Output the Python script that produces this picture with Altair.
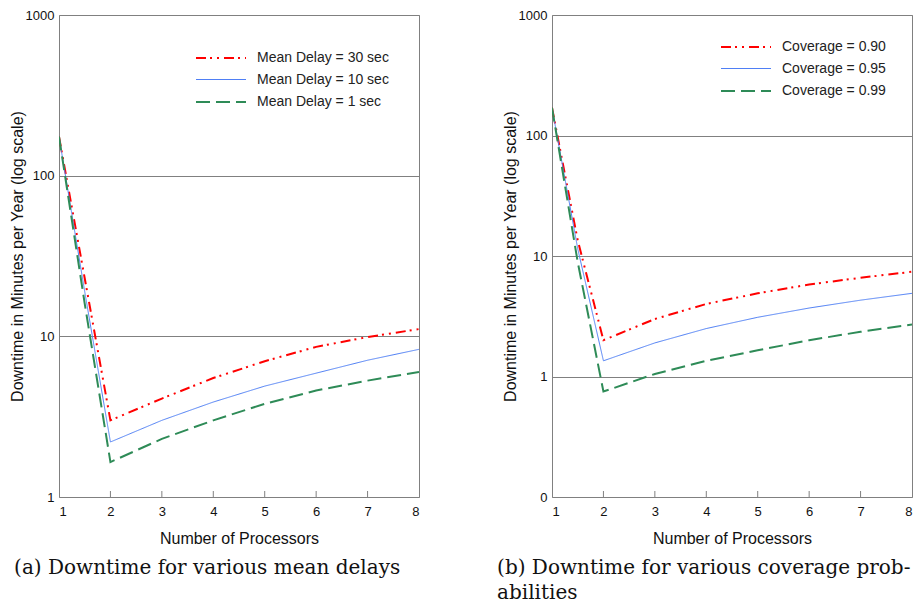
import altair as alt
import pandas as pd

# ---- data ----
x_vals = [1, 1.5, 2, 3, 4, 5, 6, 7, 8]

left_series = ["Mean Delay = 30 sec", "Mean Delay = 10 sec", "Mean Delay = 1 sec"]
left_30 = [175, 23, 3.0, 4.1, 5.5, 7.0, 8.6, 9.9, 11.1]
left_10 = [175, 19, 2.2, 3.0, 3.9, 4.9, 5.9, 7.1, 8.3]
left_1 = [175, 16, 1.65, 2.3, 3.0, 3.8, 4.6, 5.3, 6.0]

right_series = ["Coverage = 0.90", "Coverage = 0.95", "Coverage = 0.99"]
right_90 = [170, 13.5, 2.0, 3.0, 4.0, 4.9, 5.8, 6.6, 7.4]
right_95 = [170, 11.5, 1.35, 1.9, 2.5, 3.1, 3.7, 4.3, 4.9]
right_99 = [170, 8.9, 0.75, 1.05, 1.35, 1.65, 2.0, 2.35, 2.7]

x_ticks = [1, 2, 3, 4, 5, 6, 7, 8]
inner_ticks = [2, 3, 4, 5, 6, 7]
left_yticks = [1, 10, 100, 1000]
right_yticks = [0.1, 1, 10, 100, 1000]

colors = ["#ff0000", "#4f7ff5", "#2e8b57"]
dashes = [[10, 4, 2, 5, 2, 5], [1, 0], [14, 6]]
widths = [2, 1, 2]

W, H = 360, 482


def build_df(names, seriess):
    rows = []
    for name, vals in zip(names, seriess):
        for xv, yv in zip(x_vals, vals):
            rows.append({"x": xv, "y": yv, "series": name})
    return pd.DataFrame(rows)


def panel(names, seriess, ydomain, yticks, caption, leg_x, leg_y, cap_dx):
    df = build_df(names, seriess)
    xscale = alt.Scale(domain=[1, 8], nice=False)
    yscale = alt.Scale(type="log", domain=ydomain, nice=False)
    lines = alt.Chart(df).mark_line(clip=True).encode(
        x=alt.X("x:Q", scale=xscale,
                axis=alt.Axis(values=x_ticks, title="Number of Processors",
                              grid=False, ticks=False, domain=False,
                              labelPadding=8, titlePadding=12, format="d")),
        y=alt.Y("y:Q", scale=yscale,
                axis=alt.Axis(values=yticks, title="Downtime in Minutes per Year (log scale)",
                              grid=True, gridColor="#808080", gridWidth=1,
                              ticks=False, domain=False, format=".0f",
                              labelPadding=5, titlePadding=0)),
        color=alt.Color("series:N", scale=alt.Scale(domain=names, range=colors),
                        legend=alt.Legend(title=None, orient="none", legendX=leg_x,
                                          legendY=leg_y, symbolType="M-2.5,0H2.5",
                                          symbolSize=400, labelOffset=25,
                                          labelFontSize=14, rowPadding=4,
                                          labelFont="Liberation Sans",
                                          labelColor="#222")),
        strokeDash=alt.StrokeDash("series:N", scale=alt.Scale(domain=names, range=dashes),
                                  legend=alt.Legend(title=None, orient="none")),
        strokeWidth=alt.StrokeWidth("series:N",
                                    scale=alt.Scale(type="ordinal", domain=names, range=widths),
                                    legend=alt.Legend(title=None, orient="none")),
        order=alt.Order("x:Q"),
    )
    tdf = pd.DataFrame({"t": inner_ticks})
    ticks = alt.Chart(tdf).mark_rule(color="#808080", strokeWidth=1).encode(
        x=alt.X("t:Q", scale=xscale),
        y=alt.value(H),
        y2=alt.value(H - 6),
    )
    return alt.layer(ticks, lines).properties(
        width=W, height=H,
        title=alt.TitleParams(caption, orient="bottom", anchor="start", frame="bounds",
                              font="DejaVu Serif", fontSize=20, fontWeight="normal",
                              color="#111", offset=12, lineHeight=25, dx=cap_dx),
    )


left = panel(left_series, [left_30, left_10, left_1], [1, 1000], left_yticks,
             ["(a) Downtime for various mean delays"], 151, 32, 5)
right = panel(right_series, [right_90, right_95, right_99], [0.1, 1000], right_yticks,
              ["(b) Downtime for various coverage prob-", "abilities"], 183, 21, -5)

chart = alt.hconcat(left, right, spacing=76).resolve_scale(
    color="independent", strokeDash="independent", strokeWidth="independent",
    x="independent", y="independent"
).configure(padding=0).configure_view(stroke="#808080", strokeWidth=1).configure_axis(
    labelFont="Liberation Sans", labelFontSize=13, labelColor="#111",
    titleFont="Liberation Sans", titleFontSize=16, titleFontWeight="normal", titleColor="#111"
).configure_legend(labelFont="Liberation Sans")

chart.save("out.html", embed_options={"renderer": "svg", "actions": False})
